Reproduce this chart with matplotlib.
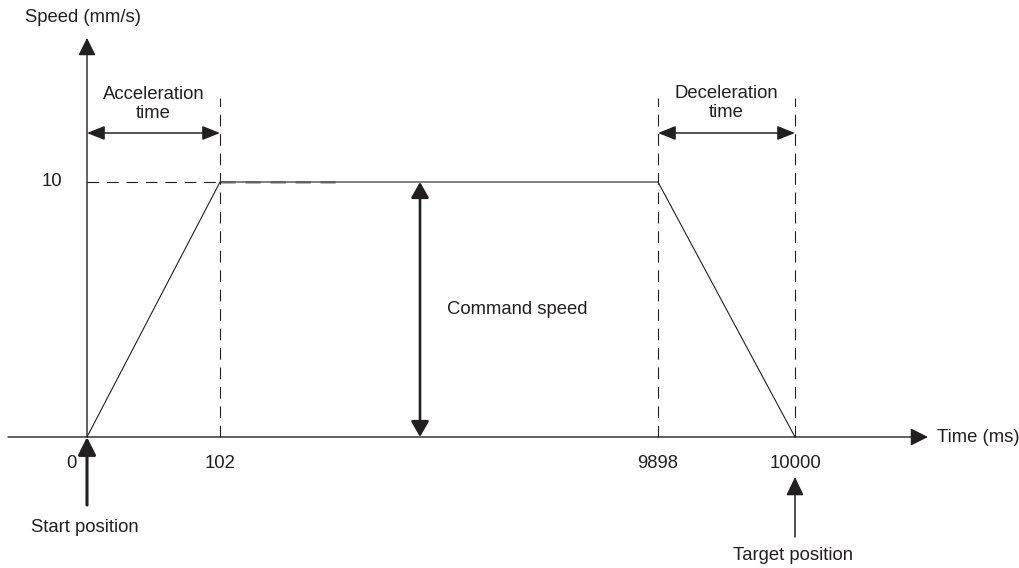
import matplotlib.pyplot as plt
import numpy as np

# Data of the speed profile (trapezoid)
profile_time = [0, 102, 9898, 10000]      # ms
profile_speed = [0, 10, 10, 0]            # mm/s
tick_times = [0, 102, 9898, 10000]
tick_labels = ["0", "102", "9898", "10000"]
speed_tick = 10

# Schematic (non-proportional) time axis: piecewise linear scale
knot_t = np.array([-1000, 0, 102, 9898, 10000, 11000])
knot_px = np.array([87 - 1000 * 133 / 102, 87, 220, 658, 795, 795 + 1000 * 137 / 102])


def fwd(t):
    return np.interp(t, knot_t, knot_px)


def inv(p):
    return np.interp(p, knot_px, knot_t)


plt.rcParams['font.family'] = ['Liberation Sans', 'DejaVu Sans']
C = '#231f20'
FS = 13.3
W, H = 1020, 568
DASH = (10.5, 7)

fig = plt.figure(figsize=(W / 100, H / 100), dpi=100)
ax = fig.add_axes([0, 0, 1, 1])
ax.set_xscale('function', functions=(fwd, inv))
ax.set_xlim(inv(0), inv(W))
ax.set_ylim(-(H - 437) / 25.5, 437 / 25.5)
ax.axis('off')


def fy(px):
    return 1 - px / H


def fx(px):
    return px / W


# Axes with arrows
ax.annotate('', xy=(fx(928), 0), xytext=(fx(8), 0),
            xycoords=('axes fraction', 'data'), textcoords=('axes fraction', 'data'),
            arrowprops=dict(arrowstyle='-|>,head_length=0.4,head_width=0.2', color=C,
                            lw=1.0, mutation_scale=27, shrinkA=0, shrinkB=0))
ax.annotate('', xy=(0, fy(38)), xytext=(0, 0),
            xycoords=('data', 'axes fraction'), textcoords='data',
            arrowprops=dict(arrowstyle='-|>,head_length=0.4,head_width=0.2', color=C,
                            lw=1.0, mutation_scale=27, shrinkA=0, shrinkB=0))

# Dashed guide lines
ax.axhline(speed_tick, xmin=fx(220), xmax=fx(345), color='#b0b0b0', lw=2.0,
           dashes=(5.5, 3.5), zorder=1)
ax.plot([0, 102], [speed_tick, speed_tick], color=C, lw=0.8, dashes=DASH)
for t in tick_times[1:]:
    ax.axvline(t, ymin=(H - 437) / H, ymax=fy(98), color=C, lw=0.8, dashes=DASH)

# Speed profile
ax.plot(profile_time, profile_speed, color=C, lw=0.8, zorder=3)

# Tick labels
for t, lab in zip(tick_times[1:], tick_labels[1:]):
    ax.annotate(lab, xy=(t, 0), xytext=(0, -26), textcoords='offset pixels',
                ha='center', va='center', fontsize=FS, color=C)
ax.annotate(tick_labels[0], xy=(0, 0), xytext=(-16, -26), textcoords='offset pixels',
            ha='center', va='center', fontsize=FS, color=C)
ax.annotate(str(speed_tick), xy=(0, speed_tick), xytext=(-25, 0), textcoords='offset pixels',
            ha='right', va='center', fontsize=FS, color=C)

ax.text(fx(25), fy(17), 'Speed (mm/s)', transform=ax.transAxes, ha='left', va='center',
        fontsize=FS, color=C)
ax.annotate('Time (ms)', xy=(fx(937), 0), xycoords=('axes fraction', 'data'),
            ha='left', va='center', fontsize=FS, color=C)

# Acceleration / deceleration time arrows
dbl = dict(arrowstyle='<|-|>,head_length=0.4,head_width=0.16', color=C,
           lw=1.1, mutation_scale=27, shrinkA=0, shrinkB=0)
ax.annotate('', xy=(102, fy(133)), xytext=(0, fy(133)),
            xycoords=('data', 'axes fraction'), textcoords=('data', 'axes fraction'),
            arrowprops=dbl)
ax.annotate('', xy=(10000, fy(133)), xytext=(9898, fy(133)),
            xycoords=('data', 'axes fraction'), textcoords=('data', 'axes fraction'),
            arrowprops=dbl)
ax.annotate('Acceleration\ntime', xy=(51, fy(104)), xycoords=('data', 'axes fraction'),
            ha='center', va='center', fontsize=FS, color=C, linespacing=1.2)
ax.annotate('Deceleration\ntime', xy=(9949, fy(103)), xycoords=('data', 'axes fraction'),
            ha='center', va='center', fontsize=FS, color=C, linespacing=1.2)

# Command speed arrow
ax.annotate('', xy=(fx(420), speed_tick), xytext=(fx(420), 0),
            xycoords=('axes fraction', 'data'), textcoords=('axes fraction', 'data'),
            arrowprops=dict(arrowstyle='<|-|>,head_length=0.35,head_width=0.2', color=C,
                            lw=1.9, mutation_scale=27, shrinkA=0, shrinkB=0))
ax.annotate('Command speed', xy=(fx(447), speed_tick / 2), xycoords=('axes fraction', 'data'),
            ha='left', va='center', fontsize=FS, color=C)

# Start / target position arrows
ax.annotate('', xy=(0, 0), xytext=(0, fy(505)),
            xycoords='data', textcoords=('data', 'axes fraction'),
            arrowprops=dict(arrowstyle='-|>,head_length=0.4,head_width=0.2', color=C,
                            lw=2.2, mutation_scale=27, shrinkA=0, shrinkB=0))
ax.annotate('Start position', xy=(0, fy(527)), xycoords=('data', 'axes fraction'),
            xytext=(-2, 0), textcoords='offset pixels',
            ha='center', va='center', fontsize=FS, color=C)
ax.annotate('', xy=(10000, fy(477)), xytext=(10000, fy(537)),
            xycoords=('data', 'axes fraction'), textcoords=('data', 'axes fraction'),
            arrowprops=dict(arrowstyle='-|>,head_length=0.42,head_width=0.2', color=C,
                            lw=1.1, mutation_scale=27, shrinkA=0, shrinkB=0))
ax.annotate('Target position', xy=(10000, fy(555)), xycoords=('data', 'axes fraction'),
            xytext=(-2, 0), textcoords='offset pixels',
            ha='center', va='center', fontsize=FS, color=C)

fig.savefig('out.png', dpi=100)
